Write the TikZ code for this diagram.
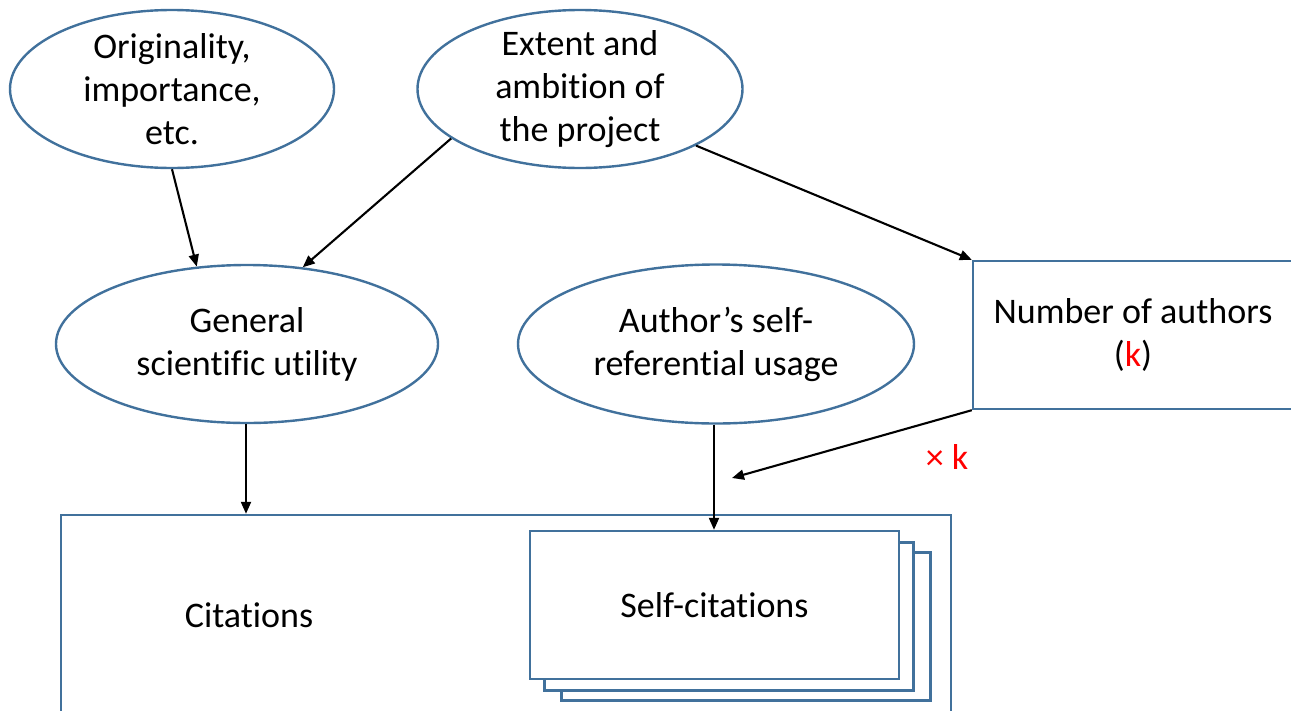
\documentclass[tikz,border=0pt]{standalone}
\usepackage{fontspec}
\setmainfont{Carlito}[Ligatures=NoCommon]
\usetikzlibrary{arrows.meta,shapes.geometric}
\definecolor{olblue}{RGB}{65,113,156}
\definecolor{kred}{RGB}{255,0,0}
\begin{document}
\begin{tikzpicture}[x=1pt,y=-1pt,
  every node/.style={font=\fontsize{36}{43}\selectfont, text=black},
  oval/.style={ellipse, draw=olblue, line width=2.4pt, inner xsep=-30pt, inner ysep=-25pt, align=center},
  boxshape/.style={rectangle, draw=olblue, line width=2.4pt, fill=white, inner sep=0pt, align=center},
  conn/.style={draw=black, line width=2.1pt, -{Triangle[length=12pt,width=10pt]}},
  redtext/.style={text=kred},
]
\useasboundingbox (0,0) rectangle (1291,710);
\clip (0,0) rectangle (1291,710);
% top ellipses
\node[oval, minimum width=324pt, minimum height=158pt] (orig) at (172,89) {Originality,\\importance,\\etc.};
\node[oval, minimum width=325pt, minimum height=158pt] (ext) at (580,89) {Extent and\\ambition of\\the project};
% middle ellipses
\node[oval, minimum width=382pt, minimum height=158pt] (gen) at (247,344) {General\\scientific utility};
\node[oval, minimum width=396pt, minimum height=159pt] (auth) at (716,344) {Author’s self-\\referential usage};
% number of authors box
\node[boxshape, minimum width=320pt, minimum height=148pt] (num) at (1133,335) {Number of authors\\(\textcolor{kred}{k})};
% citations box
\node[boxshape, fill=none, minimum width=890pt, minimum height=220pt] (cite) at (506,625) {};
\node (citetext) at (249,615) {Citations};
% self-citation stack
\node[boxshape, minimum width=369pt, minimum height=148pt] (self3) at (746,626.5) {};
\node[boxshape, minimum width=369pt, minimum height=148pt] (self2) at (729,616.5) {};
\node[boxshape, minimum width=369pt, minimum height=148pt] (self1) at (714.5,605) {Self-citations};
% connectors
\draw[conn] (orig.south) -- (gen.123);
\draw[conn] (ext.201) -- (gen.54);
\draw[conn] (ext.334) -- (num.north west);
\draw[conn] ([xshift=-1pt]gen.south) -- ([xshift=-1pt]gen.south |- cite.north);
\draw[conn] ([xshift=-2pt]auth.south) -- ([xshift=-2pt]auth.south |- self1.north);
\coordinate (xkend) at (732,478);
\draw[conn] (num.south west) -- (xkend);
\node[redtext] (xk) at (947,457) {× k};
\end{tikzpicture}
\end{document}
